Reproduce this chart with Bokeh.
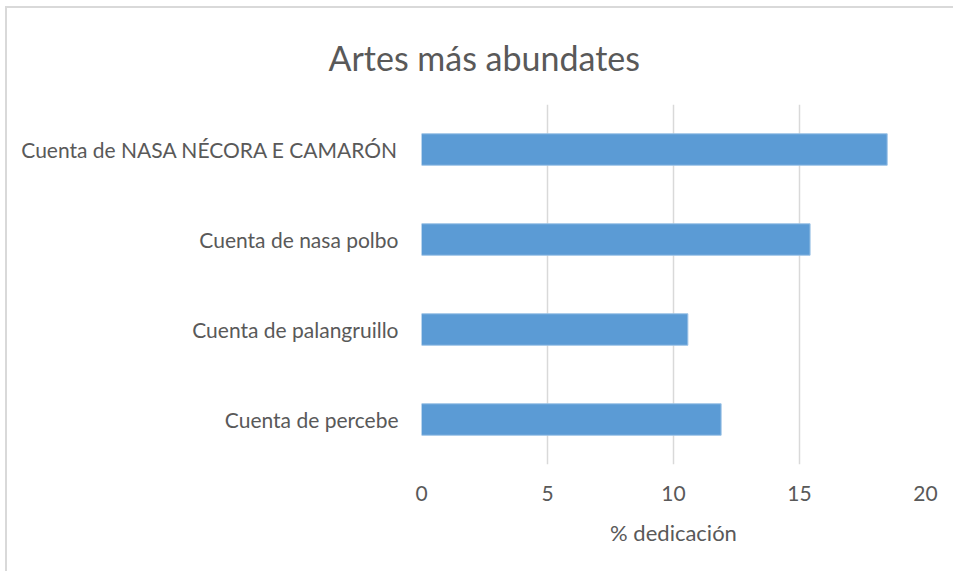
from bokeh.plotting import figure
from bokeh.models import Range1d, FactorRange
from bokeh.embed import file_html
from bokeh.resources import INLINE

title_text = "Artes más abundates"
categories = ["Cuenta de NASA NÉCORA E CAMARÓN", "Cuenta de nasa polbo",
              "Cuenta de palangruillo", "Cuenta de percebe"]
values = [18.48, 15.42, 10.57, 11.89]
x_ticks = [0, 5, 10, 15, 20]

FONT = "Lato"
GREY = "#595959"

factors = list(reversed(categories))
vals = list(reversed(values))

p = figure(width=948, height=565, output_backend="svg", toolbar_location=None,
           y_range=FactorRange(factors=factors), x_range=Range1d(0, 20),
           min_border_left=414, min_border_right=30, min_border_top=96,
           min_border_bottom=109, title=title_text)
p.styles = {"margin-left": "5px", "margin-top": "6px",
            "border-left": "2px solid #D9D9D9", "border-top": "2px solid #D9D9D9",
            "border-right": "none", "border-bottom": "none"}

p.hbar(y=factors, right=vals, left=0, height=0.35, fill_color="#5B9BD5",
       line_color="#9DC3E6", line_width=1)

p.title.align = "left"
p.title.offset = -93
p.title.vertical_align = "top"
p.title.text_font = FONT
p.title.text_font_size = "34px"
p.title.text_font_style = "normal"
p.title.text_color = GREY
p.title.standoff = 50

p.xaxis.ticker = x_ticks
p.xaxis.axis_label = "% dedicación"
p.xaxis.axis_label_text_font = FONT
p.xaxis.axis_label_text_font_size = "22px"
p.xaxis.axis_label_text_font_style = "normal"
p.xaxis.axis_label_text_color = GREY
p.xaxis.axis_label_standoff = 15
for ax in (p.xaxis, p.yaxis):
    ax.axis_line_color = None
    ax.major_tick_line_color = None
    ax.minor_tick_line_color = None
    ax.major_label_text_font = FONT
    ax.major_label_text_font_size = "21px"
    ax.major_label_text_color = GREY
p.xaxis.major_label_standoff = 15
p.yaxis.major_label_standoff = 17

p.xgrid.grid_line_color = "#D9D9D9"
p.xgrid.grid_line_width = 1.5
p.ygrid.grid_line_color = None
p.outline_line_color = None
p.border_fill_color = "white"

open("out.html", "w").write(file_html(p, INLINE))
